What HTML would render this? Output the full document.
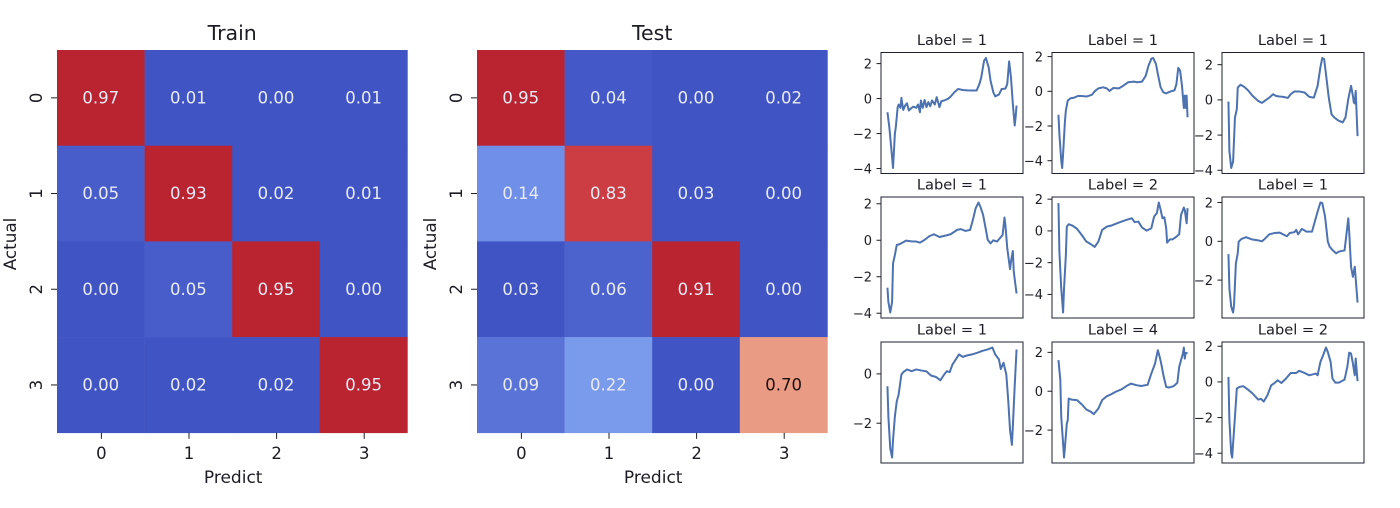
<!DOCTYPE html>
<html lang="en">
<head>
<meta charset="utf-8">
<title>Confusion matrices and sample series</title>
<style>
html,body{margin:0;padding:0;background:#fff;}
svg{display:block;font-family:"DejaVu Sans","Liberation Sans",sans-serif;}
</style>
</head>
<body>
<svg id="chart" xmlns="http://www.w3.org/2000/svg" width="1400" height="508" viewBox="0 0 1400 508"></svg>
<script>
const classLabels = ['0', '1', '2', '3'];
const trainTitle = 'Train';
const testTitle = 'Test';
const xAxisLabel = 'Predict';
const yAxisLabel = 'Actual';
const trainMatrix = [
  [0.97, 0.01, 0.00, 0.01],
  [0.05, 0.93, 0.02, 0.01],
  [0.00, 0.05, 0.95, 0.00],
  [0.00, 0.02, 0.02, 0.95]
];
const testMatrix = [
  [0.95, 0.04, 0.00, 0.02],
  [0.14, 0.83, 0.03, 0.00],
  [0.03, 0.06, 0.91, 0.00],
  [0.09, 0.22, 0.00, 0.70]
];
const panelLabels = [1, 1, 1, 1, 2, 1, 1, 4, 2];
const panelTicks = [
  [2, 0, -2, -4], [2, 0, -2, -4], [2, 0, -2, -4],
  [2, 0, -2, -4], [2, 0, -2, -4], [2, 0, -2],
  [0, -2], [2, 0, -2], [2, 0, -2, -4]
];
const sampleCount = 140;
const series1 = [[0,-.78],[2,-1.63],[4,-2.77],[6,-3.97],[8,-2],[9,-1.63],[11,-.5],[12,-.34],[14,-.53],[15,.04],[17,-.65],[19,-.4],[21,-.27],[23,-.68],[26,-.53],[28,-.46],[31,-.53],[33,-.34],[35,-.78],[36,-.11],[38,-.53],[40,-.08],[42,-.49],[44,-.2],[46,-.44],[48,-.11],[51,-.34],[53,.08],[56,-.49],[58,-.15],[61,-.11],[65,-.02],[68,.11],[72,.36],[76,.55],[81,.49],[86,.47],[91,.46],[96,.46],[99,.83],[101,1.21],[104,2.16],[106,2.32],[109,1.78],[111,1.02],[114,.36],[116,.13],[120,.23],[123,.55],[127,.57],[129,.83],[131,2.13],[133,1.21],[135,-.3],[137,-1.54],[138,-1.06],[139,-.4]];
const series2 = [[0,-1.35],[1,-2.46],[3,-4],[4,-4.42],[5,-3.6],[7,-1.7],[8,-1.1],[10,-.54],[13,-.4],[16,-.38],[21,-.27],[25,-.27],[30,-.3],[36,-.2],[39,0],[43,.17],[48,.23],[52,.17],[55,.02],[59,.19],[65,.17],[70,.33],[75,.52],[81,.56],[85,.52],[90,.56],[94,.9],[97,1.48],[100,1.88],[102,1.92],[105,1.58],[107,1],[110,.23],[113,-.06],[116,-.12],[120,-.02],[125,.06],[127,.42],[129,1.35],[131,1.19],[133,.33],[135,-.96],[136,-.25],[137,-.96],[138,-.25],[139,-1.5]];
const series3 = [[0,-.1],[1,-2.9],[3,-3.87],[5,-3.5],[7,-1],[9,-.53],[10,.7],[13,.86],[17,.74],[21,.55],[26,.23],[32,-.06],[36,-.17],[41,.02],[44,.13],[48,.32],[51,.23],[55,.19],[59,.17],[64,.11],[67,.32],[71,.48],[76,.48],[82,.42],[87,.17],[92,.13],[96,.8],[99,1.85],[101,2.38],[103,2.32],[105,1.47],[108,.13],[111,-.82],[114,-1],[118,-1.16],[123,-1.28],[126,-1],[129,.04],[132,.8],[134,.23],[135,-.15],[136,-.2],[137,.51],[139,-2.06]];
const series4 = [[0,-2.6],[1,-3.38],[3,-3.96],[5,-3.38],[6,-1.27],[8,-.81],[10,-.26],[13,-.22],[17,-.11],[20,-.02],[26,-.06],[31,-.07],[35,-.13],[40,.02],[45,.22],[50,.33],[56,.18],[63,.26],[68,.33],[75,.57],[79,.61],[84,.51],[89,.57],[92,1.12],[95,1.76],[98,2.07],[100,1.85],[103,1.39],[106,.57],[108,.02],[111,-.17],[114,0],[118,-.07],[121,.11],[124,.29],[126,1.25],[127,.84],[129,-.44],[132,-1.58],[133,-1.17],[135,-.59],[136,-1.72],[139,-2.92]];
const series5 = [[0,1.75],[1,-1.3],[3,-3.62],[5,-5.14],[6,-3.62],[8,-1.52],[9,.27],[11,.42],[15,.34],[20,.13],[25,-.25],[30,-.67],[35,-.84],[39,-1.01],[43,-.67],[47,.06],[52,.27],[57,.34],[63,.48],[68,.59],[73,.69],[79,.8],[82,.55],[86,.59],[90,.21],[95,.02],[100,.17],[103,.91],[106,1.12],[108,1.79],[110,1.33],[112,.8],[114,.86],[116,.17],[117,-.74],[120,-.53],[123,-.53],[127,-.36],[130,-.21],[132,1.01],[135,1.47],[136,1.33],[138,.48],[139,1.43]];
const series6 = [[0,-.66],[1,-2.43],[3,-3.38],[5,-3.67],[6,-3.29],[8,-1.14],[10,-.62],[11,-.02],[14,.12],[19,.21],[25,.1],[32,.05],[36,0],[39,.12],[44,.36],[50,.43],[55,.45],[60,.33],[63,.26],[66,.43],[71,.47],[73,.59],[75,.36],[79,.64],[84,.5],[90,.5],[93,1.02],[96,1.53],[99,2],[101,1.97],[104,1.28],[107,-.02],[109,-.28],[112,-.45],[116,-.62],[119,-.53],[125,-.47],[127,.33],[129,1.19],[130,.5],[132,-1.31],[134,-1.83],[135,-1.57],[136,-1.31],[137,-1.91],[139,-3.16]];
const series7 = [[0,-.5],[1,-1.73],[3,-3.02],[5,-3.39],[6,-2.68],[8,-1.73],[10,-1.12],[12,-.84],[15,-.03],[17,.07],[21,.18],[26,.11],[31,.18],[36,.14],[42,.1],[47,-.07],[52,-.12],[57,-.26],[61,-.03],[64,.11],[67,.07],[70,.38],[74,.61],[77,.79],[81,.69],[86,.75],[91,.79],[97,.86],[102,.93],[108,.99],[113,1.07],[116,.79],[120,.59],[122,.2],[125,.45],[128,-.03],[130,-1.05],[132,-2.27],[134,-2.88],[135,-2.14],[137,-.5],[139,.99]];
const series8 = [[0,1.6],[2,.57],[3,-1.32],[5,-2.69],[6,-3.41],[7,-2.86],[9,-1.66],[10,-1.49],[11,-.38],[14,-.43],[20,-.46],[25,-.67],[30,-.94],[35,-1.06],[38,-1.18],[43,-.89],[47,-.46],[52,-.26],[57,-.15],[62,-.02],[68,.1],[73,.26],[78,.39],[84,.31],[89,.27],[96,.33],[100,.91],[104,1.42],[107,2.11],[109,1.77],[111,1.34],[113,.82],[116,.22],[119,.19],[124,.26],[128,.43],[130,1.25],[132,1.6],[134,1.94],[135,2.25],[136,1.68],[137,1.97],[139,1.97]];
const series9 = [[0,.28],[1,-2.15],[3,-4.02],[4,-4.24],[5,-3.46],[7,-1.96],[9,-.37],[12,-.28],[16,-.24],[21,-.43],[26,-.65],[32,-.99],[35,-.95],[38,-1.1],[42,-.75],[46,-.19],[49,-.09],[53,.09],[57,-.06],[62,.19],[67,.5],[73,.5],[76,.62],[82,.5],[87,.37],[94,.47],[96,.37],[99,1.12],[102,1.5],[105,1.93],[107,1.68],[110,1.12],[112,.19],[115,-.04],[119,-.04],[125,.13],[128,.84],[130,1.64],[132,1.59],[134,1.03],[136,.37],[137,1.31],[139,.04]];
const allSeries = [series1, series2, series3, series4, series5, series6, series7, series8, series9];

const NS = 'http://www.w3.org/2000/svg';
const root = document.getElementById('chart');
const INK = '#1c1c24';
const LINE = '#4c72b0';
const colorStops = [[0,[64,84,196]],[.03,[64,84,196]],[.05,[72,93,202]],[.14,[111,143,232]],[.22,[122,154,235]],[.7,[233,155,132]],[.83,[203,61,66]],[.91,[186,35,48]],[1,[186,35,48]]];

function make(tag, attrs, parent) {
  const el = document.createElementNS(NS, tag);
  for (const k in attrs) el.setAttribute(k, attrs[k]);
  (parent || root).appendChild(el);
  return el;
}
function cellColor(v) {
  let i = 0;
  while (i < colorStops.length - 2 && v > colorStops[i + 1][0]) i++;
  const a = colorStops[i], b = colorStops[i + 1];
  const t = Math.max(0, Math.min(1, (v - a[0]) / (b[0] - a[0])));
  const c = a[1].map((x, j) => Math.round(x + (b[1][j] - x) * t));
  return { css: 'rgb(' + c.join(',') + ')', lum: (0.299 * c[0] + 0.587 * c[1] + 0.114 * c[2]) / 255 };
}

function drawHeatmap(matrix, title, left, name) {
  const top = 50, cw = 87.6, ch = 95.7;
  const g = make('g', {});
  
  
  const xScale = i => left + i * cw;
  const yScale = i => top + i * ch;

  matrix.forEach((row, r) => row.forEach((v, c) => {
    const col = cellColor(v);
    const rect = make('rect', { x: xScale(c), y: yScale(r), width: cw + 0.3, height: ch + 0.3, fill: col.css }, g);
    
    
    const txt = make('text', { x: xScale(c) + cw / 2, y: yScale(r) + ch / 2 + 5.6, 'text-anchor': 'middle', 'font-size': 16.5, fill: col.lum > 0.65 ? '#20100f' : '#e8ebf6' }, g);
    
    
    txt.textContent = v.toFixed(2);
  }));

  classLabels.forEach((lab, i) => {
    const xc = xScale(i) + cw / 2 + 0.6;
    const xt = make('line', { x1: xc, x2: xc, y1: top + 4 * ch, y2: top + 4 * ch + 6, stroke: INK, 'stroke-width': 1 }, g);
    
    
    const xl = make('text', { x: xc, y: 459, 'text-anchor': 'middle', 'font-size': 16.5, fill: INK }, g);
    
    
    xl.textContent = lab;
    const yc = yScale(i) + ch / 2;
    const yt = make('line', { x1: left - 6, x2: left, y1: yc, y2: yc, stroke: INK, 'stroke-width': 1 }, g);
    
    
    const yl = make('text', { x: 0, y: 0, transform: 'translate(' + (left - 15) + ' ' + yc + ') rotate(-90)', 'text-anchor': 'middle', 'font-size': 16.5, fill: INK }, g);
    
    
    yl.textContent = lab;
  });

  const t = make('text', { x: left + 2 * cw, y: 40, 'text-anchor': 'middle', 'font-size': 20.5, fill: INK }, g);
  
  
  t.textContent = title;
  const xa = make('text', { x: left + 2 * cw + 1, y: 483, 'text-anchor': 'middle', 'font-size': 17, fill: INK }, g);
  
  
  xa.textContent = xAxisLabel;
  const ya = make('text', { x: 0, y: 0, transform: 'translate(' + (left - 41) + ' 244) rotate(-90)', 'text-anchor': 'middle', 'font-size': 16.8, fill: INK }, g);
  
  
  ya.textContent = yAxisLabel;
}

drawHeatmap(trainMatrix, trainTitle, 57, 'train-confusion-matrix');
drawHeatmap(testMatrix, testTitle, 477, 'test-confusion-matrix');

const panelLefts = [881, 1052, 1222];
const panelTops = [52.5, 197, 342];
const panelW = 142, panelH = 121;

allSeries.forEach((pts, idx) => {
  const left = panelLefts[idx % 3];
  const top = panelTops[Math.floor(idx / 3)];
  const g = make('g', {});
  
  

  const vals = pts.map(p => p[1]);
  const vMin = Math.min(...vals), vMax = Math.max(...vals);
  const pad = (vMax - vMin) * 0.05;
  const xPad = (sampleCount - 1) * 0.05;
  const xScale = i => left + (i + xPad) / (sampleCount - 1 + 2 * xPad) * panelW;
  const yScale = v => top + (vMax + pad - v) / (vMax - vMin + 2 * pad) * panelH;

  const path = make('polyline', {
    points: pts.map(p => xScale(p[0]).toFixed(2) + ',' + yScale(p[1]).toFixed(2)).join(' '),
    fill: 'none', stroke: LINE, 'stroke-width': 2, 'stroke-linejoin': 'round'
  }, g);
  
  

  panelTicks[idx].forEach(v => {
    const y = yScale(v);
    const tick = make('line', { x1: left - 4.5, x2: left, y1: y, y2: y, stroke: INK, 'stroke-width': 1 }, g);
    
    
    const lab = make('text', { x: left - 9, y: y + 4.8, 'text-anchor': 'end', 'font-size': 13, fill: INK }, g);
    
    
    lab.textContent = (v < 0 ? '\u2212' : '') + Math.abs(v);
  });

  const frame = make('rect', { x: left, y: top, width: panelW, height: panelH, fill: 'none', stroke: '#1c2030', 'stroke-width': 1 }, g);
  
  

  const title = make('text', { x: left + panelW / 2, y: top - 7.5, 'text-anchor': 'middle', 'font-size': 14.6, fill: INK }, g);
  
  
  title.textContent = 'Label = ' + panelLabels[idx];
});
</script>
</body>
</html>
